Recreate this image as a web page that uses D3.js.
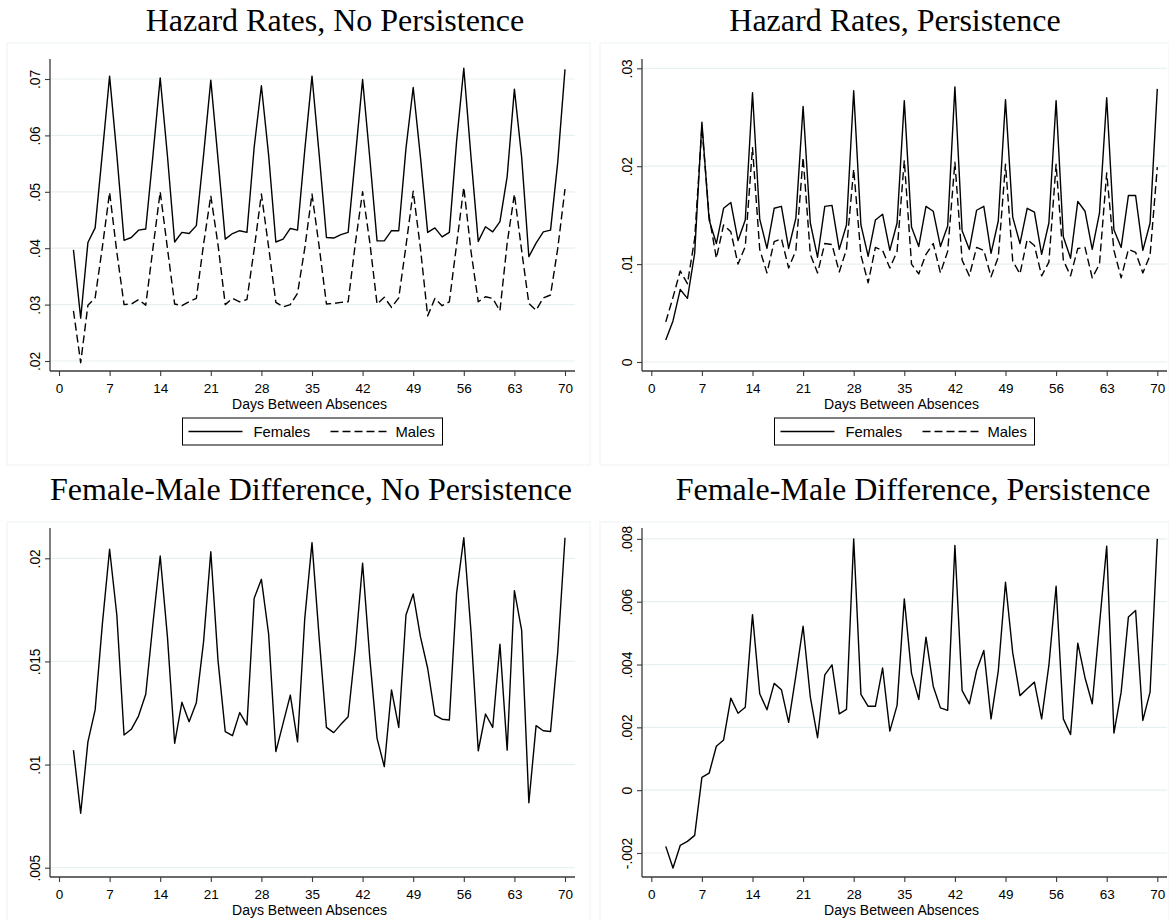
<!DOCTYPE html>
<html lang="en">
<head>
<meta charset="UTF-8">
<title>Hazard Rates by Days Between Absences</title>
<script src="https://cdn.jsdelivr.net/npm/d3@7"></script>
<style>
  body { margin: 0; background: #fff; }
  svg { display: block; }
  .title { font-family: "Liberation Serif", "Times New Roman", serif; font-size: 32px; fill: #000; }
  .tick-label, .axis-title, .legend-label { font-family: "Liberation Sans", Arial, sans-serif; fill: #000; }
</style>
</head>
<body>
<svg id="chart" width="1169" height="920"></svg>
<script>
// x values: days between absences
const days = [2,3,4,5,6,7,8,9,10,11,12,13,14,15,16,17,18,19,20,21,22,23,24,25,26,27,28,29,30,31,32,33,34,35,36,
  37,38,39,40,41,42,43,44,45,46,47,48,49,50,51,52,53,54,55,56,57,58,59,60,61,62,63,64,65,66,67,68,69,70];
const xTicks = [0, 7, 14, 21, 28, 35, 42, 49, 56, 63, 70];

// hazard rates, no persistence
const femalesNoPers = [.0397,.0276,.0410,.0436,.0569,.0705,.0566,.0414,.0419,.0432,.0434,.0565,.0702,.0564,.0411,
  .0428,.0426,.0440,.0565,.0698,.0558,.0416,.0426,.0431,.0428,.0579,.0688,.0565,.0411,.0416,.0435,.0432,.0574,.0705,
  .0565,.0419,.0418,.0424,.0428,.0562,.0699,.0559,.0413,.0413,.0431,.0431,.0577,.0685,.0562,.0428,.0436,.0420,.0428,
  .0589,.0719,.0561,.0412,.0438,.0429,.0447,.0527,.0682,.0562,.0385,.0409,.0429,.0432,.0553,.0717];
const malesNoPers = [.0289,.0197,.0299,.0312,.0402,.0499,.0393,.0300,.0301,.0309,.0299,.0400,.0500,.0400,.0301,
  .0298,.0305,.0311,.0407,.0493,.0406,.0300,.0311,.0305,.0309,.0398,.0496,.0402,.0304,.0296,.0300,.0320,.0400,.0496,
  .0402,.0301,.0302,.0304,.0305,.0409,.0500,.0410,.0301,.0313,.0295,.0312,.0404,.0501,.0400,.0280,.0311,.0298,.0305,
  .0406,.0508,.0394,.0305,.0314,.0311,.0289,.0409,.0496,.0396,.0302,.0290,.0312,.0317,.0400,.0505];

// hazard rates, persistence
const femalesPers = [.00225,.0042,.0074,.0065,.0111,.0245,.0145,.0121,.0157,.0163,.0124,.0145,.0275,.0146,.0116,
  .0157,.0159,.0116,.0147,.0261,.0142,.0107,.0159,.0160,.0115,.0140,.0277,.0140,.0108,.0145,.0151,.0114,.0142,.0267,
  .0138,.0118,.0159,.0154,.0118,.0139,.0281,.0134,.0115,.0155,.0159,.0111,.0144,.0268,.0148,.0121,.0157,.0153,.0110,
  .0142,.0267,.0128,.0106,.0164,.0154,.0115,.0152,.0270,.0135,.0117,.0170,.0170,.0114,.0142,.0279];
const malesPers = [.0041,.0066,.0093,.0080,.0126,.0240,.0149,.0106,.0140,.0133,.0100,.0118,.0219,.0115,.0091,
  .0123,.0126,.0096,.0114,.0209,.0110,.0091,.0121,.0120,.0092,.0115,.0197,.0109,.0081,.0117,.0114,.0096,.0113,.0206,
  .0100,.0090,.0110,.0121,.0091,.0113,.0204,.0104,.0088,.0117,.0114,.0087,.0107,.0202,.0103,.0090,.0125,.0119,.0088,
  .0102,.0202,.0104,.0088,.0116,.0117,.0086,.0100,.0193,.0114,.0086,.0115,.0112,.0091,.0109,.0199];

// female-male differences
const diffNoPers = [.0107,.00764,.0111,.01265,.01682,.02044,.01725,.01143,.01171,.01235,.01341,.01685,.02011,.0162,
  .01103,.01302,.01208,.0130,.01596,.02032,.01504,.0116,.0114,.01252,.01192,.01806,.01898,.01633,.01063,.0120,.01337,
  .0111,.01709,.02076,.01612,.0118,.01155,.01195,.01232,.01564,.01976,.01515,.01127,.0099,.01362,.0118,.01725,.01827,
  .0162,.01467,.0124,.0122,.01216,.0183,.0210,.01644,.01067,.01245,.0118,.01583,.0107,.01843,.01652,.00815,.01189,
  .01164,.0116,.01547,.0210];
const diffPers = [-.00179,-.00248,-.00176,-.00163,-.00144,.00041,.00054,.0014,.0016,.00293,.00245,.00264,.00559,
  .00307,.00256,.0034,.0032,.00216,.00365,.00522,.00296,.00167,.00367,.00399,.00243,.00257,.0080,.00305,.00267,
  .00267,.00389,.00188,.0027,.00609,.00372,.00289,.00487,.00331,.00262,.00254,.00779,.00317,.00275,.00381,.00445,
  .00227,.00379,.00662,.00437,.00301,.00323,.00344,.00227,.00397,.00649,.00227,.00177,.00468,.00358,.00275,.00527,
  .00777,.00182,.00312,.00551,.00572,.00222,.00312,.0080];

// y tick values and labels (Stata style)
const yTicksNoPers = [.02, .03, .04, .05, .06, .07];
const yLabelsNoPers = [".02", ".03", ".04", ".05", ".06", ".07"];
const yTicksPers = [0, .01, .02, .03];
const yLabelsPers = ["0", ".01", ".02", ".03"];
const yTicksDiffNoPers = [.005, .01, .015, .02];
const yLabelsDiffNoPers = [".005", ".01", ".015", ".02"];
const yTicksDiffPers = [-.002, 0, .002, .004, .006, .008];
const yLabelsDiffPers = ["-.002", "0", ".002", ".004", ".006", ".008"];

const seriesNames = ["Females", "Males"];

const svg = d3.select("#chart");
const gridColor = "#e9f0f2";
const axisColor = "#3a3a3a";

// faint graph-region frames
[[7, 43, 583, 422], [600, 43, 569, 422], [7, 522, 583, 400], [600, 522, 569, 400]].forEach(r => {
  svg.append("rect").attr("x", r[0]).attr("y", r[1]).attr("width", r[2]).attr("height", r[3])
    .attr("fill", "none").attr("stroke", "#eef3f5").attr("stroke-width", 1);
});

function drawPanel(p) {
  const g = svg.append("g");
  const x = d3.scaleLinear().domain([0, 70]).range([p.x0, p.x70]);
  const y = d3.scaleLinear().domain(p.yDom).range(p.yRng);

  // title
  g.append("text").attr("class", "title")
    .attr("x", p.titleX).attr("y", p.titleY).attr("text-anchor", "middle").text(p.title);

  // grid
  g.selectAll(".grid").data(p.yTicks).join("line")
    .attr("x1", p.left).attr("x2", p.right)
    .attr("y1", d => y(d)).attr("y2", d => y(d))
    .attr("stroke", gridColor).attr("stroke-width", 1.2);

  // y axis
  const yAxis = d3.axisLeft(y).tickValues(p.yTicks).tickSize(5)
    .tickFormat((d, i) => p.yLabels[i]);
  const ya = g.append("g").attr("transform", `translate(${p.left},0)`).call(yAxis);
  ya.select(".domain").remove();
  ya.append("line").attr("x1", 0).attr("x2", 0).attr("y1", p.top).attr("y2", p.bottom)
    .attr("stroke", axisColor).attr("stroke-width", 1.3);
  ya.selectAll(".tick line").attr("stroke", axisColor).attr("stroke-width", 1.1);
  ya.selectAll(".tick text").attr("class", "tick-label")
    .attr("font-size", 13.8).attr("fill", "#000")
    .attr("transform", "rotate(-90)")
    .attr("x", 0).attr("y", -10).attr("dy", 0)
    .attr("text-anchor", "middle");

  // x axis
  const xAxis = d3.axisBottom(x).tickValues(xTicks).tickSize(5);
  const xa = g.append("g").attr("transform", `translate(0,${p.bottom})`).call(xAxis);
  xa.select(".domain").remove();
  xa.append("line").attr("x1", p.left).attr("x2", p.right).attr("y1", 0).attr("y2", 0)
    .attr("stroke", axisColor).attr("stroke-width", 1.3);
  xa.selectAll(".tick line").attr("stroke", axisColor).attr("stroke-width", 1.1);
  xa.selectAll(".tick text").attr("class", "tick-label")
    .attr("font-size", 13.5).attr("fill", "#000").attr("y", 22).attr("dy", 0);
  xa.selectAll("text").attr("font-family", "Liberation Sans, Arial, sans-serif");
  ya.selectAll("text").attr("font-family", "Liberation Sans, Arial, sans-serif");

  g.append("text").attr("class", "axis-title")
    .attr("x", (p.left + p.right) / 2 - 3).attr("y", p.bottom + 38)
    .attr("text-anchor", "middle").attr("font-size", 14)
    .text("Days Between Absences");

  // lines
  const line = d3.line().x((d, i) => x(days[i])).y(d => y(d));
  p.series.forEach((s, k) => {
    g.append("path").datum(s).attr("d", line)
      .attr("fill", "none").attr("stroke", "#000").attr("stroke-width", 1.4)
      .attr("stroke-linejoin", "round")
      .attr("stroke-dasharray", k === 1 ? "8,4" : null);
  });

  // legend
  if (p.legend) {
    const lx = (p.left + p.right) / 2 - 130, ly = p.bottom + 47;
    const lg = g.append("g").attr("transform", `translate(${lx},${ly})`);
    lg.append("rect").attr("width", 260).attr("height", 27)
      .attr("fill", "#fff").attr("stroke", "#000").attr("stroke-width", 1);
    [[6, 60, 71], [148, 205, 213]].forEach((pos, k) => {
      lg.append("line").attr("x1", pos[0]).attr("x2", pos[1]).attr("y1", 13.5).attr("y2", 13.5)
        .attr("stroke", "#000").attr("stroke-width", 1.4)
        .attr("stroke-dasharray", k === 1 ? "8,4" : null);
      lg.append("text").attr("class", "legend-label").attr("x", pos[2]).attr("y", 19)
        .attr("font-size", 14.8).text(seriesNames[k]);
    });
  }
}

drawPanel({
  title: "Hazard Rates, No Persistence", titleX: 335, titleY: 31,
  left: 50, right: 575, top: 59, bottom: 371, x0: 59, x70: 565,
  yDom: [.02, .07], yRng: [361, 79],
  yTicks: yTicksNoPers, yLabels: yLabelsNoPers,
  series: [femalesNoPers, malesNoPers], legend: true
});
drawPanel({
  title: "Hazard Rates, Persistence", titleX: 895, titleY: 31,
  left: 642, right: 1167, top: 59, bottom: 371, x0: 651.3, x70: 1157.3,
  yDom: [0, .03], yRng: [362, 68.3],
  yTicks: yTicksPers, yLabels: yLabelsPers,
  series: [femalesPers, malesPers], legend: true
});
drawPanel({
  title: "Female-Male Difference, No Persistence", titleX: 311, titleY: 500,
  left: 50, right: 575, top: 528, bottom: 877, x0: 59, x70: 565,
  yDom: [.005, .02], yRng: [867.7, 558.3],
  yTicks: yTicksDiffNoPers, yLabels: yLabelsDiffNoPers,
  series: [diffNoPers], legend: false
});
drawPanel({
  title: "Female-Male Difference, Persistence", titleX: 913, titleY: 500,
  left: 642, right: 1167, top: 528, bottom: 877, x0: 651.3, x70: 1157.3,
  yDom: [-.002, .006], yRng: [853, 601.7],
  yTicks: yTicksDiffPers, yLabels: yLabelsDiffPers,
  series: [diffPers], legend: false
});
</script>
</body>
</html>
